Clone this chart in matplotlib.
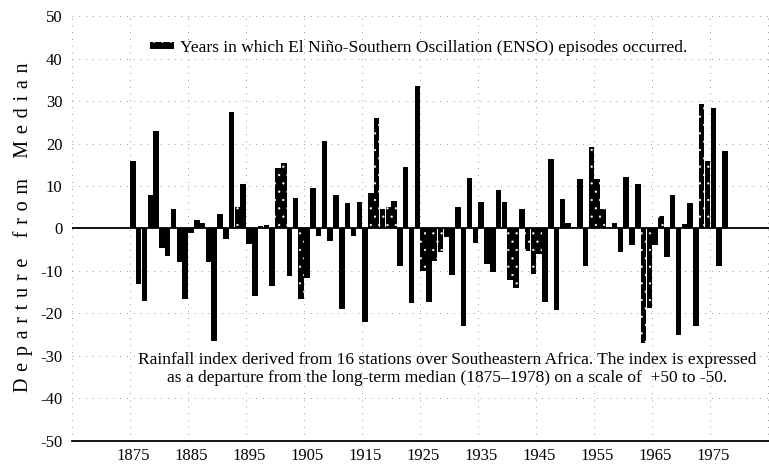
import matplotlib
matplotlib.use("Agg")
import matplotlib.pyplot as plt
from matplotlib.patches import Patch

# rainfall index, Southeastern Africa, 1875-1977
years = list(range(1875, 1978))
rain_index = [
    16, -13, -17, 8, 23, -4.5, -6.5, 4.5, -8, -16.5,          # 1875-1884
    -1, 2, 1.3, -8, -26.5, 3.5, -2.5, 27.5, 5, 10.5,          # 1885-1894
    -3.6, -16, 0.5, 0.8, -13.6, 14.3, 15.5, -11.2, 7.2, -16.7,  # 1895-1904
    -11.7, 9.6, -1.7, 20.7, -3, 8, -19, 5.9, -1.7, 6.2,       # 1905-1914
    -22, 8.3, 26, 4.5, 5, 6.5, -8.8, 14.5, -17.5, 33.5,       # 1915-1924
    -10, -17.3, -7.6, -5.6, -2, -11, 5, -23, 12, -3.4,        # 1925-1934
    6.3, -8.3, -10.2, 9, 6.3, -12.2, -14, 4.7, -5.2, -10.7,   # 1935-1944
    -6, -17.3, 16.4, -19.3, 6.9, 1.2, 0.3, 11.7, -8.8, 19.3,  # 1945-1954
    11.7, 4.6, 0, 1.2, -5.5, 12.2, -3.8, 10.4, -27, -18.7,    # 1955-1964
    -4, 2.9, -6.8, 8, -25, 1, 6, -23, 29.4, 16,               # 1965-1974
    28.3, -8.8, 18.2,                                          # 1975-1977
]
enso_years = [1893, 1900, 1901, 1904, 1916, 1917, 1918, 1919, 1920,
              1925, 1927, 1928, 1940, 1941, 1943, 1944, 1945,
              1954, 1955, 1956, 1963, 1964, 1966, 1973, 1974]
tick_years = list(range(1875, 1976, 10))
y_ticks = list(range(-50, 51, 10))

plt.rcParams["font.family"] = ["Liberation Serif", "DejaVu Serif"]
plt.rcParams["hatch.linewidth"] = 0.4

fig = plt.figure(figsize=(7.69, 4.65), dpi=100)
ax = fig.add_axes([0.0936, 0.0523, 0.9064, 0.9127])

plain_x = [y for y in years if y not in enso_years]
plain_v = [v for y, v in zip(years, rain_index) if y not in enso_years]
enso_x = [y for y in years if y in enso_years]
enso_v = [v for y, v in zip(years, rain_index) if y in enso_years]

ax.bar(plain_x, plain_v, width=0.95, color="black", linewidth=0, zorder=3)
ax.bar(enso_x, enso_v, width=0.95, facecolor="black", edgecolor="white",
       hatch="..", linewidth=0, zorder=3)

ax.axhline(0, color="black", lw=1.3, zorder=4)

ax.set_xlim(1864.6, 1984.6)
ax.set_ylim(-50, 50)
ax.set_xticks(tick_years)
ax.set_xticklabels([str(t) for t in tick_years], fontsize=12)
ax.set_yticks(y_ticks)
ax.set_yticklabels([str(t) for t in y_ticks], fontsize=12)
ax.tick_params(axis="both", length=0)
ax.tick_params(axis="y", pad=7)
ax.tick_params(axis="x", pad=5)

# sparse dotted grid, vertical lines half a year before each decade label
ax.set_xticks([t - 0.5 for t in range(1865, 1986, 10)], minor=True)
ax.tick_params(axis="x", which="minor", length=0)
ax.grid(True, which="minor", axis="x", color="#999999", lw=0.7,
        linestyle=(0, (1, 6)), zorder=1)
ax.grid(True, which="major", axis="y", color="#999999", lw=0.7,
        linestyle=(0, (1, 6)), zorder=1)

for side in ["top", "right", "left"]:
    ax.spines[side].set_visible(False)
ax.spines["bottom"].set_linewidth(1.3)

sp = "\u2004"
ylab = (3 * sp).join(sp.join(w) for w in ["Departure", "from", "Median"])
fig.text(23 / 769, 0.511, ylab, rotation=90, ha="center", va="center",
         fontsize=14.5)

handle = Patch(facecolor="black", edgecolor="white", hatch="..", linewidth=0)
ax.legend([handle], ["Years in which El Niño-Southern Oscillation (ENSO) episodes occurred."],
          loc="center left", bbox_to_anchor=(150 / 769, 1 - 48 / 465),
          bbox_transform=fig.transFigure, frameon=False, fontsize=12.5,
          handlelength=1.4, handleheight=0.25, handletextpad=0.35,
          borderpad=0, borderaxespad=0)

fig.text(447 / 769, 1 - 360 / 465,
         "Rainfall index derived from 16 stations over Southeastern Africa. The index is expressed",
         ha="center", va="center", fontsize=12.5)
fig.text(447 / 769, 1 - 378 / 465,
         "as a departure from the long-term median (1875–1978) on a scale of  +50 to -50.",
         ha="center", va="center", fontsize=12.5)

fig.savefig("out.png", dpi=100)
